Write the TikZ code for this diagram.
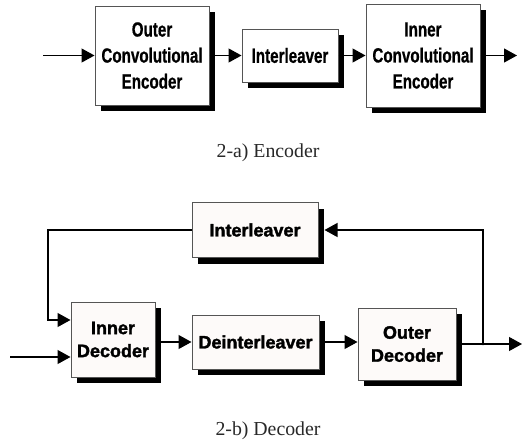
\documentclass[tikz,border=0pt]{standalone}
\usepackage{fontspec}
\setmainfont{Liberation Serif}
\newfontfamily\encfont[FakeStretch=0.74,FakeBold=0.6]{Liberation Sans Bold}
\newfontfamily\decfont[FakeBold=1.8]{Liberation Sans Bold}
\usetikzlibrary{arrows.meta,calc}
\definecolor{boxline}{RGB}{85,85,85}
\definecolor{decfill}{RGB}{253,250,249}
\definecolor{captext}{RGB}{40,40,40}
\tikzset{
  flow/.style={line width=1.2pt,-{Triangle[length=13pt,width=14pt]}},
  encbox/.style={draw=boxline,line width=1pt,fill=white,align=center,inner sep=0pt,
    font=\encfont\fontsize{20.5}{26}\selectfont},
  decbox/.style={draw=boxline,line width=1pt,fill=decfill,align=center,inner sep=0pt,
    font=\decfont\fontsize{18}{23}\selectfont},
  caption/.style={text=captext,font=\fontsize{19.8}{22}\selectfont}
}
\begin{document}
\begin{tikzpicture}[x=1pt,y=-1pt]
\useasboundingbox (0,0) rectangle (527,439);

% solid black offset shadows, drawn first so the boxes sit on top
\fill[black] (101,12) rectangle (215,111);
\fill[black] (248,35) rectangle (344,88);
\fill[black] (372,10) rectangle (486,113);
\fill[black] (198,209) rectangle (324,264);
\fill[black] (77,308) rectangle (161,383);
\fill[black] (198,321) rectangle (325,375);
\fill[black] (364,314) rectangle (462,386);

% ---- encoder chain ----
\node[encbox,minimum width=114pt,minimum height=99pt] (outer) at (152,55.5)
  {Outer\\Convolutional\\Encoder};
\node[encbox,minimum width=96pt,minimum height=53pt] (inter) at (290,55.5) {Interleaver};
\node[encbox,minimum width=114pt,minimum height=103pt] (inner) at (423,55.5)
  {Inner\\Convolutional\\Encoder};
\coordinate (ein) at (43,55.5);
\coordinate (eout) at (517,55.5);
\draw[flow] (ein) -- (outer);
\draw[flow] (outer) -- (inter);
\draw[flow] (inter) -- (inner);
\draw[flow] (inner) -- (eout);
\node[caption] (capa) at (268,153) {2-a) Encoder};

% ---- iterative decoder ----
\node[decbox,minimum width=126pt,minimum height=55pt] (fbint) at (255,230) {Interleaver};
\node[decbox,minimum width=84pt,minimum height=75pt] (idec) at (113,339.5) {Inner\\Decoder};
\node[decbox,minimum width=127pt,minimum height=54pt] (deint) at (255.5,342) {Deinterleaver};
\node[decbox,minimum width=98pt,minimum height=72pt] (odec) at (407,344) {Outer\\Decoder};

\coordinate (din) at (10,357);
\coordinate (dout) at (522,344);
\coordinate (junc) at (483,344);
\coordinate (fbturn) at (48,320);

\draw[flow] (din) -- (din -| idec.west);
\draw[flow] (idec.east |- deint.west) -- (deint.west);
\draw[flow] (deint.east) -- (deint.east -| odec.west);
\draw[flow] (odec.east) -- (dout);
\draw[flow] (junc) |- ([xshift=6pt]fbint.east);
\draw[flow] (fbint.west) -| (fbturn) -- (fbturn -| idec.west);
\fill (junc) circle (1.3pt);

\node[caption] (capb) at (268,431) {2-b) Decoder};
\end{tikzpicture}
\end{document}
